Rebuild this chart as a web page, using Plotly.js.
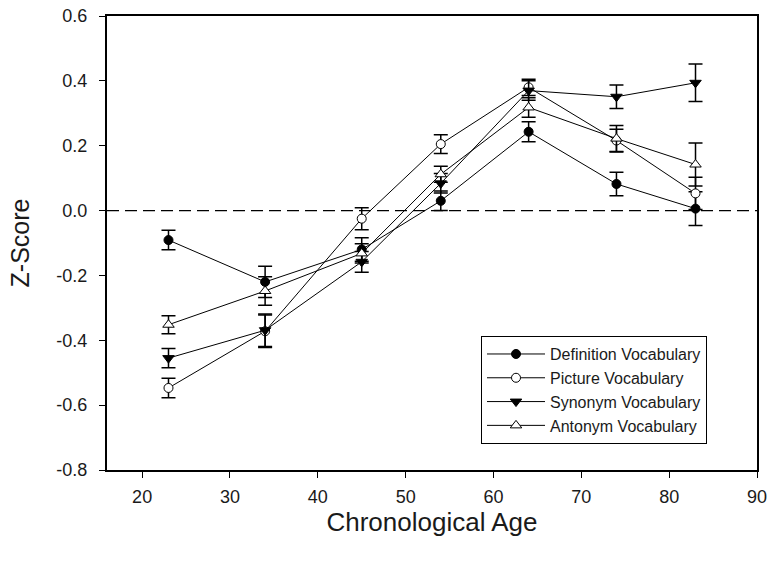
<!DOCTYPE html>
<html>
<head>
<meta charset="utf-8">
<script src="https://cdn.plot.ly/plotly-3.0.1.min.js"></script>
<style>html,body{margin:0;padding:0;background:#fff;}#chart{width:773px;height:565px;}</style>
</head>
<body>
<div id="chart"></div>
<script>
const ages = [23, 34, 45, 54, 64, 74, 83];

const definitionMean = [-0.091, -0.220, -0.120, 0.030, 0.243, 0.082, 0.006];
const definitionErr  = [0.030, 0.048, 0.036, 0.030, 0.031, 0.036, 0.052];

const pictureMean = [-0.547, -0.372, -0.025, 0.205, 0.380, 0.216, 0.053];
const pictureErr  = [0.030, 0.050, 0.034, 0.029, 0.025, 0.035, 0.050];

const synonymMean = [-0.455, -0.369, -0.158, 0.084, 0.370, 0.351, 0.394];
const synonymErr  = [0.030, 0.050, 0.032, 0.030, 0.030, 0.036, 0.058];

const antonymMean = [-0.352, -0.248, -0.132, 0.112, 0.318, 0.222, 0.142];
const antonymErr  = [0.028, 0.044, 0.030, 0.025, 0.030, 0.040, 0.066];

const seriesNames = ["Definition Vocabulary", "Picture Vocabulary", "Synonym Vocabulary", "Antonym Vocabulary"];

const yTickVals = [0.6, 0.4, 0.2, 0.0, -0.2, -0.4, -0.6, -0.8];
const yTickText = ["0.6", "0.4", "0.2", "0.0", "-0.2", "-0.4", "-0.6", "-0.8"];
const xTickVals = [20, 30, 40, 50, 60, 70, 80, 90];

const FONT = '"Liberation Sans", Arial, sans-serif';

function mk(name, y, err, symbol, fill, size) {
  return {
    type: 'scatter', mode: 'lines+markers', name: name,
    x: ages, y: y,
    line: {color: '#000', width: 1},
    marker: {symbol: symbol, size: size, color: fill, line: {color: '#000', width: 1}},
    error_y: {type: 'data', array: err, visible: true, color: '#000', thickness: 1.5, width: 7}
  };
}

const data = [
  mk(seriesNames[0], definitionMean, definitionErr, 'circle', '#000', 9),
  mk(seriesNames[1], pictureMean, pictureErr, 'circle', '#fff', 9),
  mk(seriesNames[2], synonymMean, synonymErr, 'triangle-down', '#000', 10),
  mk(seriesNames[3], antonymMean, antonymErr, 'triangle-up', '#fff', 10)
];

const layout = {
  width: 773, height: 565,
  margin: {l: 107, r: 16, t: 16, b: 95},
  paper_bgcolor: '#fff', plot_bgcolor: '#fff',
  font: {family: FONT, color: '#1a1a1a', size: 15},
  showlegend: true,
  legend: {
    x: 0.5754, y: 0.295, xanchor: 'left', yanchor: 'top',
    bgcolor: '#fff', bordercolor: '#000', borderwidth: 1,
    font: {size: 16, family: FONT},
    tracegroupgap: 0, itemwidth: 58
  },
  xaxis: {
    range: [16, 90], tickvals: xTickVals, ticks: 'outside', ticklen: 6, tickwidth: 1, tickcolor: '#000',
    showgrid: false, zeroline: false, showline: true, linecolor: '#000', linewidth: 2, mirror: true,
    tickfont: {size: 18}, ticklabelstandoff: 3,
    title: {text: 'Chronological Age', font: {size: 26}, standoff: 6}
  },
  yaxis: {
    range: [-0.8, 0.6], tickvals: yTickVals, ticktext: yTickText, ticks: 'outside', ticklen: 6, tickwidth: 1, tickcolor: '#000',
    showgrid: false, zeroline: false, showline: true, linecolor: '#000', linewidth: 2, mirror: true,
    tickfont: {size: 18}, ticklabelstandoff: 8,
    title: {text: 'Z-Score', font: {size: 25}, standoff: 20}
  },
  shapes: [{
    type: 'line', xref: 'paper', yref: 'y', x0: 0, x1: 1, y0: 0, y1: 0,
    line: {color: '#000', width: 1.2, dash: '12px,6px'}, layer: 'below'
  }]
};

Plotly.newPlot('chart', data, layout, {displayModeBar: false, staticPlot: true});
</script>
</body>
</html>
